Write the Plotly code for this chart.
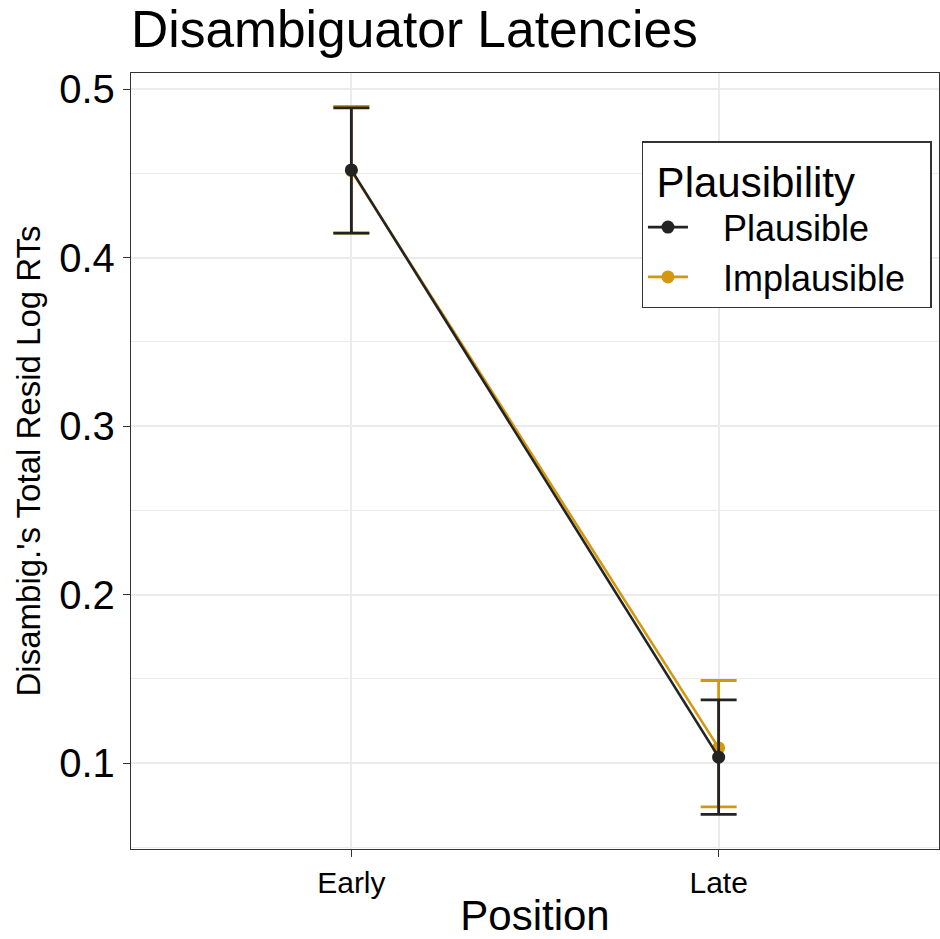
import plotly.graph_objects as go

positions = ["Early", "Late"]
plausible_mean = [0.452, 0.1035]
plausible_hi = [0.4888, 0.1375]
plausible_lo = [0.4145, 0.0695]
implausible_mean = [0.4515, 0.109]
implausible_hi = [0.4897, 0.149]
implausible_lo = [0.4145, 0.074]
y_ticks = [0.1, 0.2, 0.3, 0.4, 0.5]
y_tick_labels = ["0.1", "0.2", "0.3", "0.4", "0.5"]

BLACK = "#232323"
ORANGE = "#D4980F"
FONT = "Liberation Sans, Arial, Helvetica, sans-serif"
NB = "\u00a0"

def trace(name, mean, hi, lo, color, rank):
    return go.Scatter(
        x=positions, y=mean, name=NB * 3 + name + NB * 2, mode="lines+markers",
        line=dict(color=color, width=2.6),
        marker=dict(color=color, size=13),
        error_y=dict(type="data", symmetric=False,
                     array=[h - m for h, m in zip(hi, mean)],
                     arrayminus=[m - l for m, l in zip(mean, lo)],
                     color=color, thickness=2.8, width=18),
        legendrank=rank,
    )

fig = go.Figure()
fig.add_trace(trace("Implausible", implausible_mean, implausible_hi, implausible_lo, ORANGE, 2))
fig.add_trace(trace("Plausible", plausible_mean, plausible_hi, plausible_lo, BLACK, 1))

fig.update_layout(
    width=940, height=939,
    margin=dict(l=131, r=1, t=73, b=90),
    paper_bgcolor="white", plot_bgcolor="white",
    font=dict(family=FONT, color="black"),
    title=dict(text="Disambiguator Latencies", font=dict(size=51.5, color="black"),
               x=0, xref="paper", xanchor="left", y=0.969, yref="container", yanchor="middle"),
    legend=dict(
        title=dict(text=NB + "Plausibility", font=dict(size=42)),
        font=dict(size=36),
        x=0.632, y=0.912, xanchor="left", yanchor="top",
        bordercolor="#333333", borderwidth=1.3, bgcolor="white",
        itemwidth=40,
    ),
    showlegend=True,
)
fig.update_xaxes(
    type="category", range=[-0.6, 1.6],
    showgrid=True, gridcolor="#EBEBEB", gridwidth=2,
    showline=True, mirror=True, linecolor="#333333", linewidth=1.3,
    ticks="outside", ticklen=7, tickcolor="#333333", tickwidth=1.3,
    tickfont=dict(size=30, color="black"),
    title=dict(text="Position", font=dict(size=42, color="black"), standoff=8),
    zeroline=False,
)
fig.update_yaxes(
    range=[0.049, 0.5095],
    tickvals=y_ticks, ticktext=y_tick_labels,
    showgrid=True, gridcolor="#EBEBEB", gridwidth=2,
    minor=dict(dtick=0.05, tick0=0.0, showgrid=True, gridcolor="#EBEBEB", gridwidth=1, ticks=""),
    showline=True, mirror=True, linecolor="#333333", linewidth=1.3,
    ticks="outside", ticklen=7, tickcolor="#333333", tickwidth=1.3,
    tickfont=dict(size=40, color="black"),
    title=dict(text="Disambig.'s Total Resid Log RTs", font=dict(size=33, color="black"), standoff=8),
    zeroline=False,
)

fig.write_html("out.html")
